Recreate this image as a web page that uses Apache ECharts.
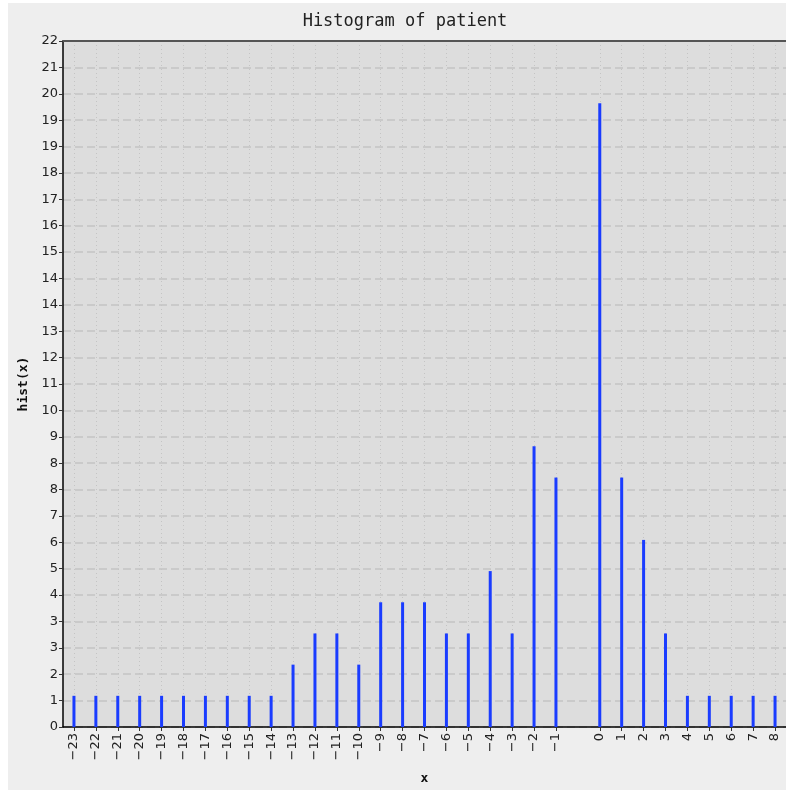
<!DOCTYPE html>
<html>
<head>
<meta charset="utf-8">
<script src="https://cdn.jsdelivr.net/npm/echarts@6/dist/echarts.min.js"></script>
<style>
html,body{margin:0;padding:0;background:#ffffff;}
#chart{position:absolute;left:8px;top:3px;width:778px;height:787px;}
</style>
</head>
<body>
<div id="chart"></div>
<script>
// categories (blank slot between -1 and 0 as in the original)
var categories = ['-23','-22','-21','-20','-19','-18','-17','-16','-15','-14','-13','-12','-11','-10','-9','-8','-7','-6','-5','-4','-3','-2','-1','','0','1','2','3','4','5','6','7','8'];
var counts = [1,1,1,1,1,1,1,1,1,1,2,3,3,2,4,4,4,3,3,5,3,9,8,null,20,8,6,3,1,1,1,1,1];
var yMax = 22;
var yTickCount = 26;

var chart = echarts.init(document.getElementById('chart'));
var skipBlank = function (idx, val) { return categories[idx] !== ''; };
var option = {
  backgroundColor: '#eeeeee',
  animation: false,
  title: {
    text: 'Histogram of patient',
    left: 392, top: 5, textAlign: 'center',
    textStyle: { fontFamily: 'DejaVu Sans Mono', fontSize: 17, fontWeight: 'normal', color: '#222' }
  },
  grid: {
    left: 55, top: 38, right: 0, bottom: 58,
    show: true, backgroundColor: '#dddddd', borderWidth: 0
  },
  xAxis: [{
    type: 'category',
    data: categories,
    boundaryGap: true,
    name: 'x',
    nameLocation: 'middle',
    nameGap: 45,
    nameTextStyle: { fontFamily: 'DejaVu Sans Mono', fontWeight: 'bold', fontSize: 13, color: '#111' },
    axisLine: { show: true, lineStyle: { color: '#000', width: 1.5 } },
    axisTick: { show: true, alignWithLabel: true, length: 4, interval: skipBlank, lineStyle: { color: '#333' } },
    axisLabel: {
      interval: 0, rotate: 90, margin: 6,
      fontFamily: 'DejaVu Sans', fontSize: 13, color: '#222',
      formatter: function (v) { return v.replace('-', '\u2212'); }
    },
    splitLine: { show: true, alignWithLabel: true, interval: skipBlank, lineStyle: { color: '#c4c4c4', type: [1, 3], width: 1 } }
  }, {
    type: 'category',
    data: categories,
    position: 'top',
    axisLine: { show: true, lineStyle: { color: '#555', width: 2 } },
    axisTick: { show: false },
    axisLabel: { show: false },
    splitLine: { show: false }
  }],
  yAxis: {
    type: 'value',
    min: 0, max: yMax,
    interval: yMax / yTickCount,
    name: 'hist(x)',
    nameLocation: 'middle',
    nameGap: 31,
    nameTextStyle: { fontFamily: 'DejaVu Sans Mono', fontWeight: 'bold', fontSize: 13, color: '#111' },
    axisLine: { show: true, lineStyle: { color: '#000', width: 1.5 } },
    axisTick: { show: true, length: 4, lineStyle: { color: '#333' } },
    axisLabel: {
      margin: 5, fontFamily: 'DejaVu Sans', fontSize: 13, color: '#222',
      formatter: function (v) { return String(Math.round(v)); }
    },
    splitLine: { show: true, lineStyle: { color: '#c4c4c4', type: [8, 4], width: 1.5 } }
  },
  series: [{
    type: 'bar',
    data: counts,
    barWidth: 3,
    itemStyle: { color: '#1a3cff' }
  }]
};
chart.setOption(option);
</script>
</body>
</html>
